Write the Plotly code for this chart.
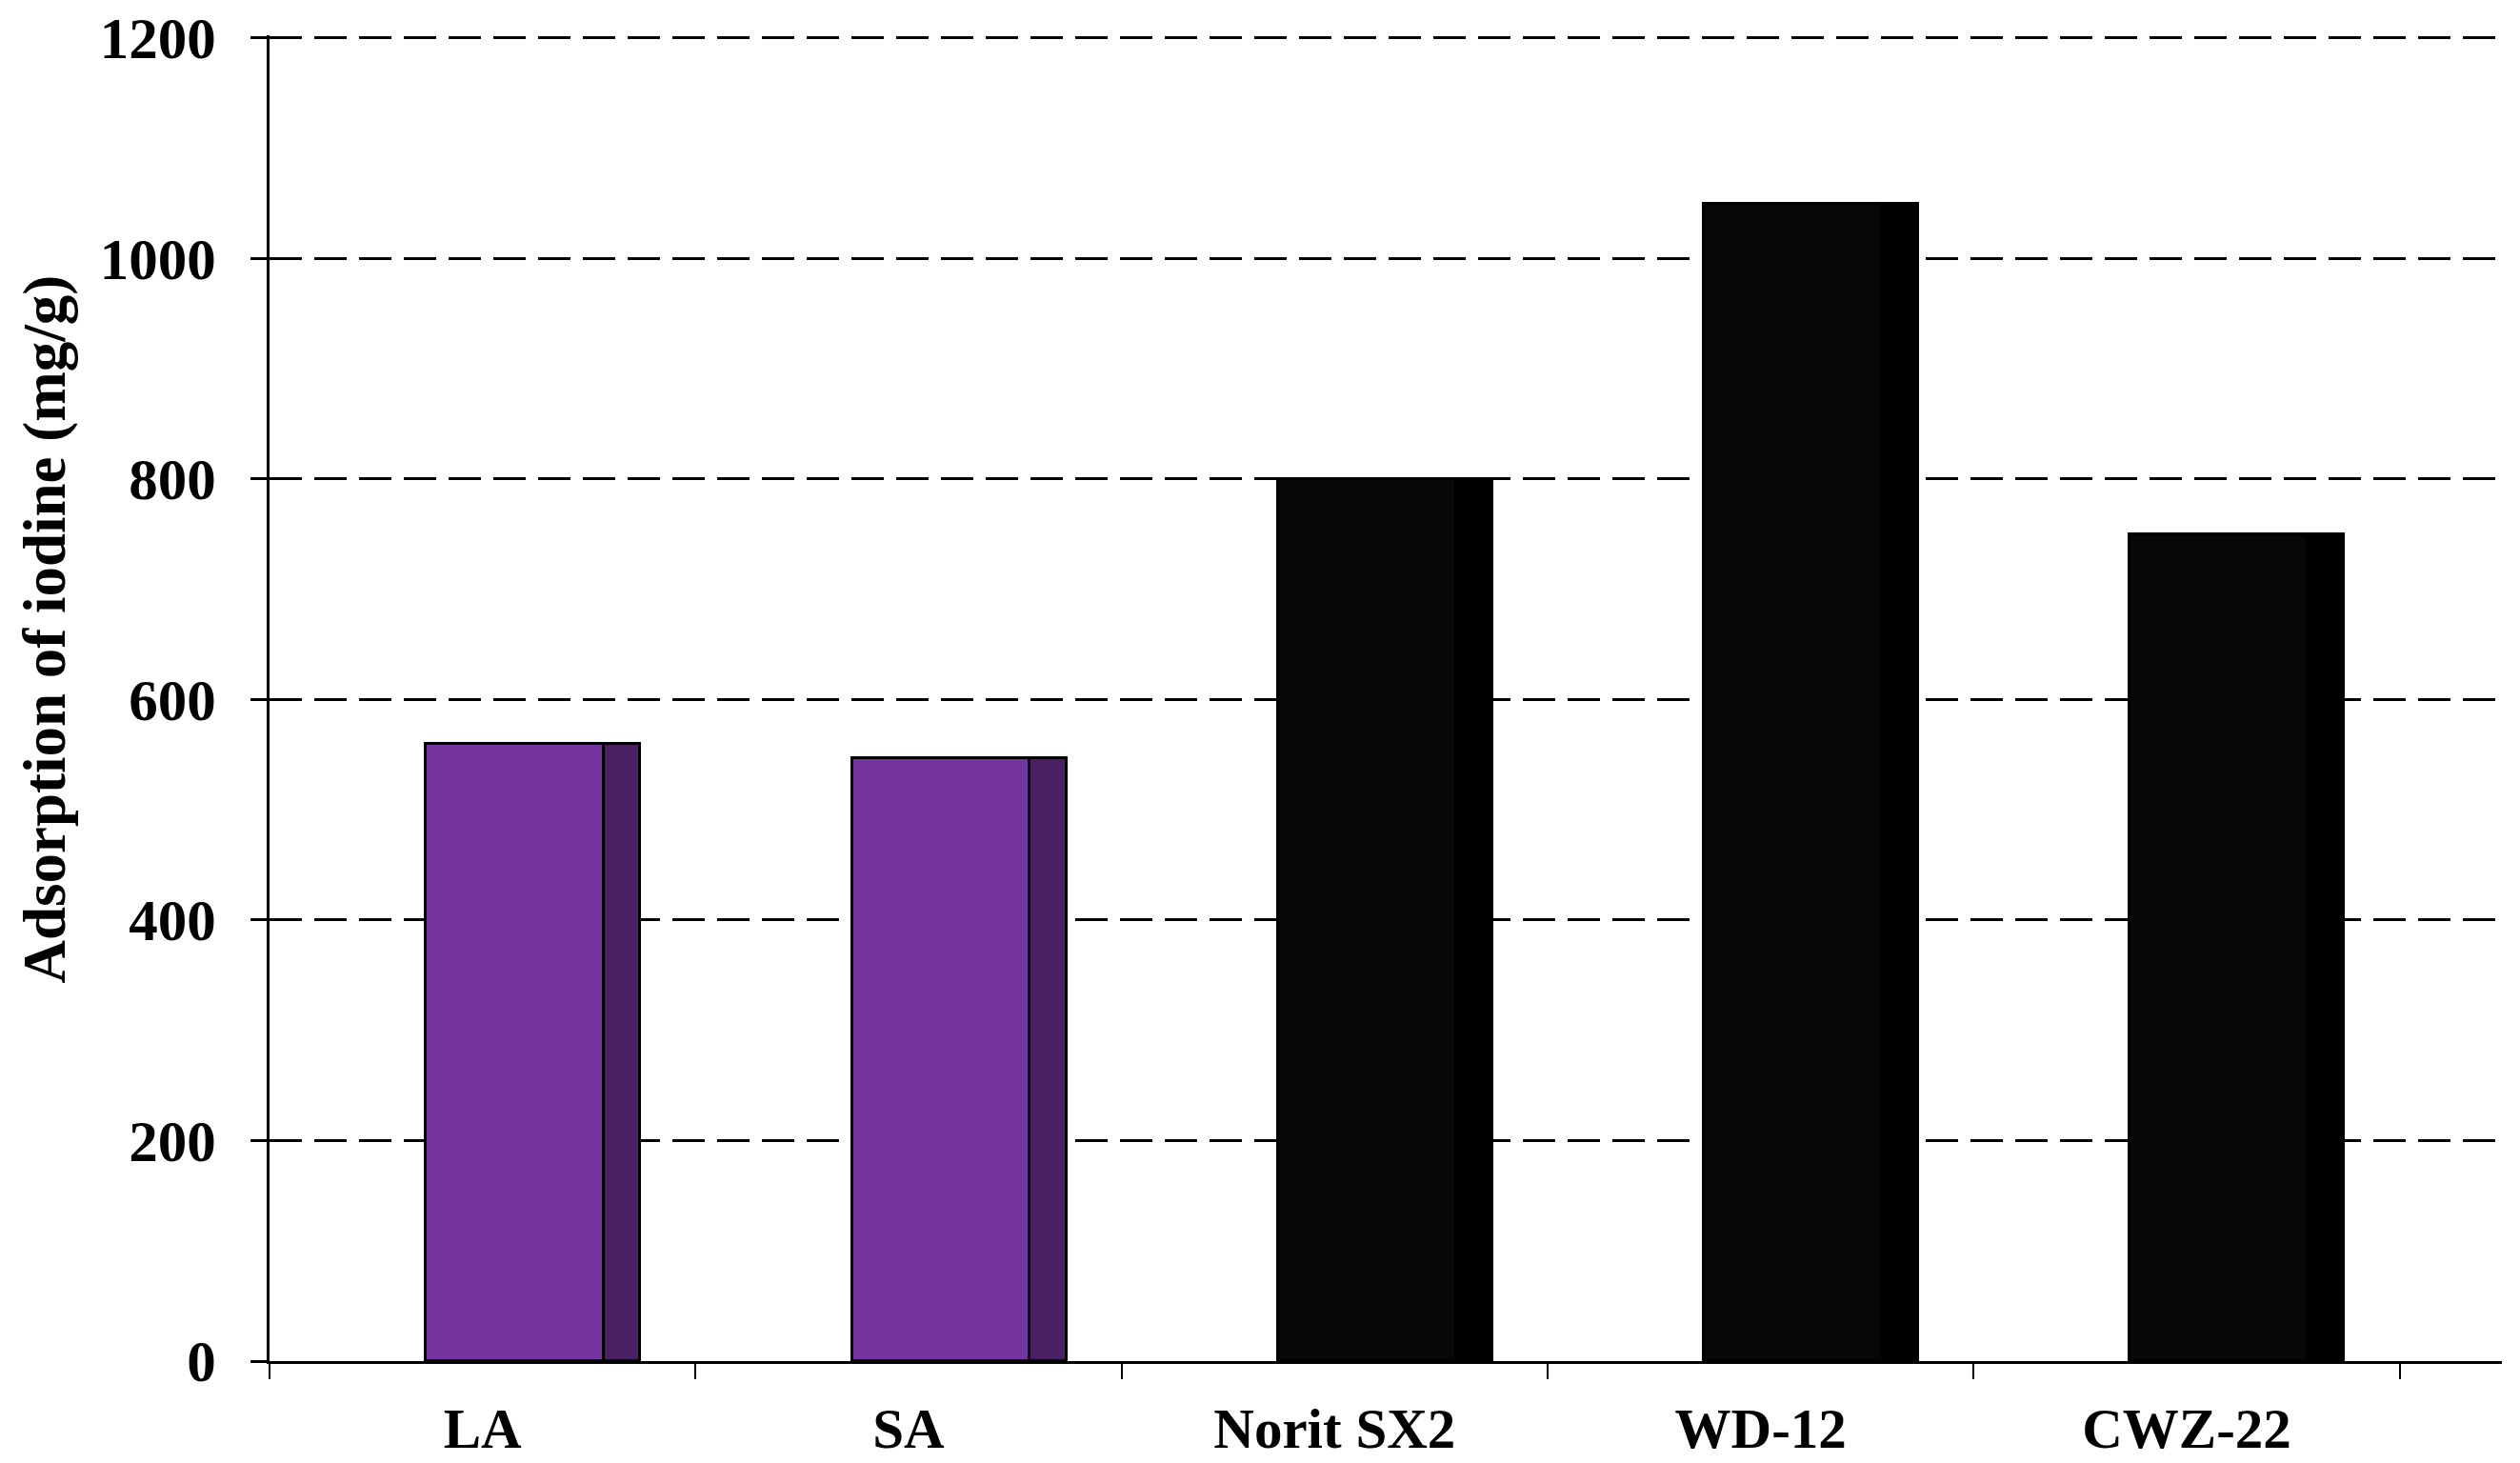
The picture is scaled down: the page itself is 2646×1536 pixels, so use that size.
import plotly.graph_objects as go

# ---- data ----
categories = ["LA", "SA", "Norit SX2", "WD-12", "CWZ-22"]
iodine_values = [560, 547, 800, 1050, 750]
y_ticks = [0, 200, 400, 600, 800, 1000, 1200]
y_title = "Adsorption of iodine (mg/g)"

# ---- styles ----
front_colors = ["#7535A0", "#7535A0", "#070707", "#070707", "#070707"]
side_colors = ["#4A1F64", "#4A1F64", "#000000", "#000000", "#000000"]
FONT = "Liberation Serif"

x_pos = list(range(len(categories)))

fig = go.Figure()
# front face of the pseudo-3D column
fig.add_trace(go.Bar(
    x=x_pos, y=iodine_values,
    width=0.418, offset=-0.133,
    marker=dict(color=front_colors, line=dict(color="black", width=3)),
    hoverinfo="x+y", showlegend=False,
))
# side face
fig.add_trace(go.Bar(
    x=x_pos, y=iodine_values,
    width=0.085, offset=0.285,
    marker=dict(color=side_colors, line=dict(color="black", width=3)),
    showlegend=False,
))

# page body has an 8px margin, so the figure is sized/offset to compensate
fig.update_layout(
    width=2638, height=1528,
    margin=dict(l=275, r=19, t=29, b=107, autoexpand=False),
    paper_bgcolor="white", plot_bgcolor="white",
    barmode="overlay",
    bargap=0,
)
fig.update_xaxes(
    range=[-0.5, 4.74], automargin=False,
    tickmode="array", tickvals=x_pos, ticktext=categories,
    ticks="", showgrid=False, zeroline=False,
    showline=True, linecolor="black", linewidth=3,
    tickfont=dict(family=FONT, size=59, color="black", weight="bold"),
    ticklabelstandoff=17, ticklabeloverflow="allow",
    minor=dict(tickmode="array", tickvals=[i - 0.5 for i in range(len(categories) + 1)],
               ticks="outside", ticklen=16, tickwidth=2, tickcolor="black", showgrid=False),
)
fig.update_yaxes(
    range=[0, 1202.5], automargin=False,
    tickmode="array", tickvals=y_ticks,
    ticks="outside", ticklen=17, tickwidth=3, tickcolor="black",
    showline=True, linecolor="black", linewidth=3, zeroline=False,
    showgrid=True, gridcolor="black", gridwidth=3, griddash="34px,13px",
    tickfont=dict(family=FONT, size=61, color="black", weight="bold"),
    ticklabelstandoff=24, ticklabeloverflow="allow",
)
fig.add_annotation(
    text=y_title, textangle=-90, showarrow=False,
    xref="paper", yref="paper", x=0, y=0.552,
    xanchor="center", yanchor="middle", xshift=-236,
    font=dict(family=FONT, size=63, color="black", weight="bold"),
)

fig.write_html("out.html")
